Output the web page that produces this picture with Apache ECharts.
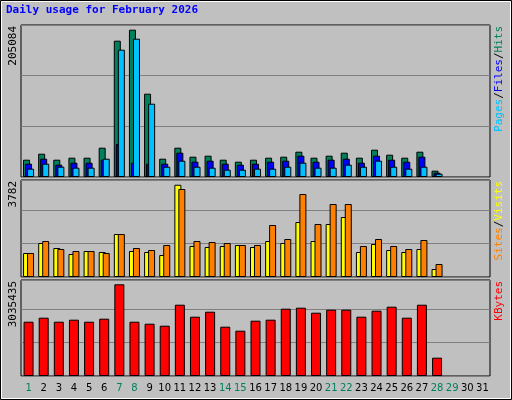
<!DOCTYPE html>
<html><head><meta charset="utf-8">
<script src="https://cdn.jsdelivr.net/npm/echarts@6/dist/echarts.min.js"></script>
<style>html,body{margin:0;padding:0;background:#C0C0C0}#c{width:512px;height:400px}</style>
</head><body><div id="c"></div>
<script>
const days = Array.from({length:31},(_,i)=>String(i+1));
const weekendDays = [1,7,8,14,15,21,22,28,29];
const hits = [24090,32440,24090,26870,26870,40790,189770,205084,115980,25480,40790,28260,29660,24090,21300,24090,26870,28260,35230,26870,29660,33830,26870,38010,31050,26870,35230,8770];
const files = [18520,25480,17130,19910,19910,24090,45950,19910,18520,18520,33830,21300,22700,18520,17130,18520,21300,22700,29660,21300,24090,25480,19910,29660,24090,21300,28260,5990];
const pages = [11560,18520,14340,12950,12950,25480,177240,192560,102060,14340,22700,14340,12950,10160,10160,11560,11560,14340,19910,12950,12950,17130,14340,22700,14340,11560,14340,4590];
const visits = [984,1394,1189,943,1066,1025,1763,1066,1025,902,3782,1271,1230,1271,1312,1230,1476,1394,2255,1476,2173,2460,1025,1353,1107,1025,1148,328];
const sites = [984,1476,1148,1066,1066,984,1763,1189,1107,1312,3608,1476,1435,1394,1312,1312,2132,1558,3403,2173,2993,2993,1271,1558,1271,1148,1517,533];
const kbytes = [1797000,1930000,1797000,1864000,1797000,1897000,3035435,1797000,1731000,1665000,2360000,1963000,2128000,1632000,1500000,1831000,1864000,2228000,2261000,2095000,2195000,2195000,1963000,2162000,2294000,1930000,2360000,606000];
const maxLabels = ['205084','3782','3035435'];

const chart = echarts.init(document.getElementById('c'), null, {renderer:'canvas'});
const L = 21, W = 469;
const grids = [
  {left:L, top:25, width:W, height:152},
  {left:L, top:180, width:W, height:97},
  {left:L, top:280, width:W, height:96}
].map(g=>Object.assign(g,{show:true, backgroundColor:'#C0C0C0', borderColor:'#000', borderWidth:1}));
const yMax = [211630, 3977, 3178000];
const yInt = [70543, 1366, 1103000];
const xAxes = [0,1,2].map(i=>({type:'category', gridIndex:i, data:days, boundaryGap:true,
  axisLine:{show:false}, axisTick:{show:false}, splitLine:{show:false},
  axisLabel:{show:i===2, interval:0, margin:7, fontFamily:'DejaVu Sans', fontSize:10,
    formatter:v=>weekendDays.includes(+v)?'{w|'+v+'}':'{d|'+v+'}',
    rich:{w:{color:'#00805C',fontFamily:'DejaVu Sans',fontSize:10},d:{color:'#000',fontFamily:'DejaVu Sans',fontSize:10}}}}));
const yAxes = [0,1,2].map(i=>({type:'value', gridIndex:i, min:0, max:yMax[i], interval:yInt[i],
  axisLine:{show:false}, axisTick:{show:false}, axisLabel:{show:false},
  splitLine:{show:true, lineStyle:{color:'#808080', width:1}}}));
const bs = {borderColor:'#000', borderWidth:1};
function bar(name, data, color, gi, w, gap){
  return {name, type:'bar', xAxisIndex:gi, yAxisIndex:gi, data, barWidth:w, barGap:gap,
    itemStyle:Object.assign({color}, bs), silent:true, animation:false};
}
const series = [
  bar('Hits', hits, '#00805C', 0, 7, '-71%'),
  bar('Files', files, '#0000FF', 0, 7, '-71%'),
  bar('Pages', pages, '#00C0FF', 0, 7, '-71%'),
  bar('Visits', visits, '#FFFF00', 1, 7, '-43%'),
  bar('Sites', sites, '#FF8000', 1, 7, '-43%'),
  bar('KBytes', kbytes, '#FF0000', 2, 10, '0%')
];
function vtext(x, y, rich, text){
  return {type:'text', x, y, rotation:Math.PI/2,
    style:{text, rich, align:'right', verticalAlign:'middle', fontFamily:'DejaVu Sans Mono', fontSize:11}};
}
const mono = {fontFamily:'DejaVu Sans Mono', fontSize:11};
const graphic = [
  {type:'rect', shape:{x:0.5,y:0.5,width:511,height:399}, style:{fill:'none', stroke:'#000', lineWidth:1}},
  {type:'rect', shape:{x:1.5,y:1.5,width:509,height:397}, style:{fill:'none', stroke:'#fff', lineWidth:1}},
  {type:'text', x:6, y:10, style:{text:'Daily usage for February 2026', fill:'#0000FF', fontFamily:'DejaVu Sans Mono', fontWeight:'bold', fontSize:11, verticalAlign:'middle'}},
  vtext(13, 26, {}, maxLabels[0]),
  vtext(13, 181, {}, maxLabels[1]),
  vtext(13, 281, {}, maxLabels[2]),
  {type:'text', x:499, y:26, rotation:Math.PI/2, style:{text:'{p|Pages}{s|/}{f|Files}{s|/}{h|Hits}', align:'right', verticalAlign:'middle',
    rich:{p:Object.assign({fill:'#00C0FF'},mono), f:Object.assign({fill:'#0000FF'},mono), h:Object.assign({fill:'#00805C'},mono), s:Object.assign({fill:'#000'},mono)}}},
  {type:'text', x:499, y:181, rotation:Math.PI/2, style:{text:'{a|Sites}{s|/}{b|Visits}', align:'right', verticalAlign:'middle',
    rich:{a:Object.assign({fill:'#FF8000'},mono), b:Object.assign({fill:'#FFFF00'},mono), s:Object.assign({fill:'#000'},mono)}}},
  {type:'text', x:499, y:281, rotation:Math.PI/2, style:{text:'KBytes', align:'right', verticalAlign:'middle', fill:'#FF0000', fontFamily:'DejaVu Sans Mono', fontSize:11}}
];
chart.setOption({animation:false, backgroundColor:'#C0C0C0', grid:grids, xAxis:xAxes, yAxis:yAxes, series, graphic});
</script></body></html>
